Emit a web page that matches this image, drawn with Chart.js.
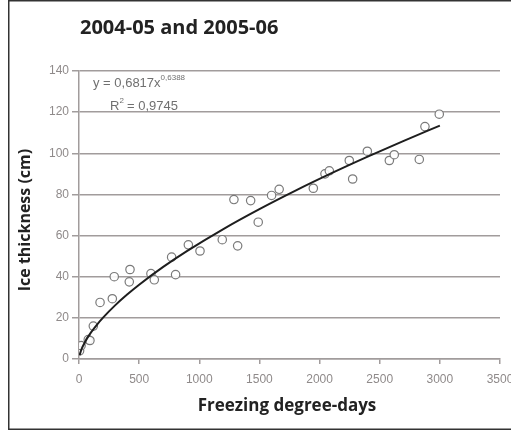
<!DOCTYPE html>
<html>
<head>
<meta charset="utf-8">
<script src="https://cdn.jsdelivr.net/npm/chart.js@4"></script>
<style>
  html, body { margin: 0; padding: 0; background: #fff; }
  #wrap { width: 511px; height: 433px; position: relative; }
</style>
</head>
<body>
<div id="wrap"><canvas id="chart" width="511" height="433"></canvas></div>
<script>
// measured ice thickness vs freezing degree-days
const freezingDays = [5, 17, 77, 91, 119, 175, 277, 293, 418, 424, 598, 626, 770, 803, 909, 1006,
  1191, 1288, 1319, 1427, 1490, 1601, 1664, 1948, 2045, 2081, 2247, 2275, 2397, 2580, 2621, 2829, 2876, 2995];
const iceThickness = [4, 6.5, 9.4, 9, 16, 27.5, 29.3, 40, 37.5, 43.5, 41.5, 38.5, 49.5, 41, 55.5, 52.5,
  58, 77.5, 55, 77, 66.5, 79.5, 82.5, 83, 90, 91.5, 96.5, 87.5, 101, 96.5, 99.3, 97, 113, 119];

// power trend line as printed on the chart: y = 0,6817x^0,6388
const trendCoef = 0.6817;
const trendExp = 0.6388;
const trendX = [5, 20, 50, 100, 150, 200, 300, 400, 500, 700, 900, 1200, 1500, 1800, 2100, 2400, 2700, 3000];

const xTicks = [0, 500, 1000, 1500, 2000, 2500, 3000, 3500];
const yTicks = [0, 20, 40, 60, 80, 100, 120, 140];

const chartTitle = '2004-05 and 2005-06';
const xTitle = 'Freezing degree-days';
const yTitle = 'Ice thickness (cm)';

const gridColor = '#a19c9c';
const tickColor = '#8f8a8a';

const scatterPoints = freezingDays.map((x, i) => ({ x, y: iceThickness[i] }));
const trendPoints = trendX.map(x => ({ x, y: trendCoef * Math.pow(x, trendExp) }));

const textPlugin = {
  id: 'texts',
  afterDraw(chart) {
    const ctx = chart.ctx;
    ctx.save();
    // frame
    ctx.strokeStyle = '#333';
    ctx.lineWidth = 1.5;
    ctx.beginPath();
    ctx.moveTo(520, 0.75);
    ctx.lineTo(8.75, 0.75);
    ctx.lineTo(8.75, 429.25);
    ctx.lineTo(520, 429.25);
    ctx.stroke();

    ctx.fillStyle = '#222';
    ctx.textBaseline = 'middle';
    ctx.font = 'bold 20px "Open Sans"';
    ctx.textAlign = 'left';
    ctx.fillText(chartTitle, 80, 28);

    ctx.font = 'bold 17px "Open Sans"';
    ctx.textAlign = 'center';
    ctx.fillText(xTitle, 287, 406);

    ctx.font = 'bold 16px "Open Sans"';
    ctx.translate(25, 220);
    ctx.rotate(-Math.PI / 2);
    ctx.fillText(yTitle, 0, 0);
    ctx.setTransform(1, 0, 0, 1, 0, 0);

    // equation
    ctx.fillStyle = '#707070';
    ctx.textAlign = 'left';
    ctx.textBaseline = 'alphabetic';
    ctx.font = '13px "Liberation Sans"';
    let s = 'y = 0,6817x';
    ctx.fillText(s, 93, 87);
    let w = ctx.measureText(s).width;
    ctx.font = '8px "Liberation Sans"';
    ctx.fillText('0,6388', 93 + w, 80);

    ctx.font = '13px "Liberation Sans"';
    ctx.fillText('R', 110, 110);
    w = ctx.measureText('R').width;
    ctx.font = '8px "Liberation Sans"';
    ctx.fillText('2', 110 + w, 103);
    ctx.font = '13px "Liberation Sans"';
    ctx.fillText(' = 0,9745', 110 + w + 4, 110);
    ctx.restore();
  }
};

const ctx = document.getElementById('chart').getContext('2d');
new Chart(ctx, {
  type: 'scatter',
  data: {
    datasets: [
      {
        label: 'Trend',
        type: 'line',
        data: trendPoints,
        borderColor: '#1e1e1e',
        borderWidth: 2,
        pointRadius: 0,
        cubicInterpolationMode: 'monotone',
        fill: false,
        order: 1
      },
      {
        label: 'Observed',
        data: scatterPoints,
        pointRadius: 4.2,
        pointBorderWidth: 1.2,
        borderColor: '#7a7a7a',
        backgroundColor: 'rgba(255,255,255,0.9)',
        order: 2
      }
    ]
  },
  options: {
    responsive: false,
    animation: false,
    layout: { padding: { top: 71, right: 11, left: 0, bottom: 0 } },
    plugins: {
      legend: { display: false },
      tooltip: { enabled: false }
    },
    scales: {
      x: {
        type: 'linear',
        min: 0,
        max: 3500,
        afterFit: s => { s.height = 74; s.paddingLeft = 0; s.paddingRight = 0; },
        afterBuildTicks: s => { s.ticks = xTicks.map(v => ({ value: v })); },
        grid: { drawOnChartArea: false, color: gridColor, tickLength: 5, lineWidth: 1.5 },
        border: { color: gridColor, width: 1.5 },
        ticks: {
          color: tickColor, padding: 8, font: { family: 'Liberation Sans', size: 12 },
          callback: v => String(v)
        }
      },
      y: {
        min: 0,
        max: 140,
        afterFit: s => { s.width = 79; },
        afterBuildTicks: s => { s.ticks = yTicks.map(v => ({ value: v })); },
        grid: { color: gridColor, tickLength: 7, lineWidth: 1.5 },
        border: { color: gridColor, width: 1.5 },
        ticks: { color: tickColor, padding: 3, font: { family: 'Liberation Sans', size: 12 } }
      }
    }
  },
  plugins: [textPlugin]
});
</script>
</body>
</html>
